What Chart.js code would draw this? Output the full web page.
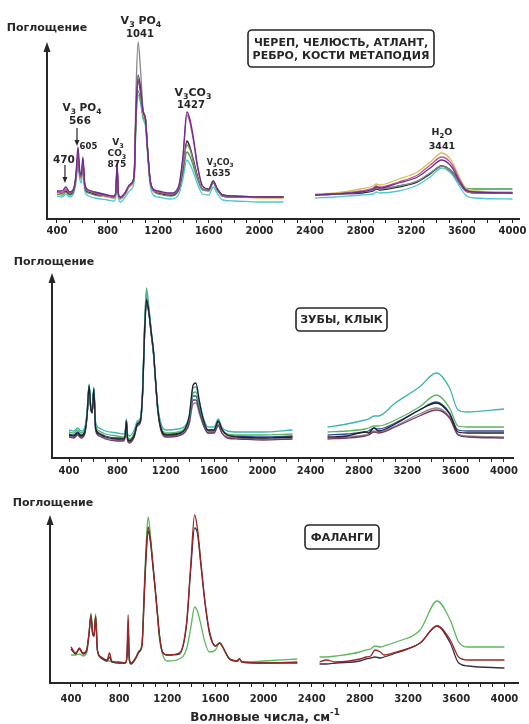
<!DOCTYPE html>
<html>
<head>
<meta charset="utf-8">
<script src="https://cdn.jsdelivr.net/npm/chart.js@4.4.1/dist/chart.umd.min.js"></script>
<style>
  body { margin: 0; background: #fff; }
  canvas { position: absolute; left: 0; }
</style>
</head>
<body>
<canvas id="bones" width="529" height="250" style="top:0px"></canvas>
<canvas id="teeth" width="529" height="250" style="top:239px"></canvas>
<canvas id="phalanges" width="529" height="260" style="top:464px"></canvas>
<script>
// волновые числа, см-1 (null в данных = разрыв оси 2200-2450)
var wnBones = [400,440,470,500,530,550,566,580,592,605, 620,650,700,800,850,865,875,885,900,940,
  965,990,1010,1025,1041,1060,1080,1100,1115,1135, 1160,1200,1300,1360,1395,1427,1450,1480,1510,1550,
  1600,1635,1665,1710,1800,2000,2190,2300,2440,2600, 2800,2900,2925,2950,3100,3250,3350,3441,3520,3580,
  3630,3700,4000];
var wnTeeth = [400,440,470,500,530,550,566,580,592,605, 620,650,700,800,850,865,875,885,900,940,
  965,990,1010,1025,1041,1060,1080,1100,1115,1135, 1160,1200,1300,1360,1395,1427,1450,1480,1510,1550,
  1600,1635,1665,1710,1800,2000,2250,2400,2540,2700, 2850,2880,2925,2960,3100,3300,3441,3550,3620,3700,
  4000];
var wnPhalanges = [400,440,470,500,530,550,566,580,592,605, 620,650,700,720,740,800,850,865,875,885,
  900,940,965,990,1010,1025,1041,1060,1080,1100, 1115,1135,1160,1200,1300,1360,1395,1427,1450,1480,
  1510,1550,1600,1635,1665,1710,1780,1800,1820,2000, 2280,2370,2465,2520,2600,2800,2850,2890,2925,2970,
  3000,3100,3300,3441,3550,3620,3700,4000];

// поглощение, отн. ед. — череп, челюсть, атлант, ребро, кости метаподия
var bonesGrey = [27,26,29,26,29,42,66,46,42,58, 33,28,26,23,22,26,52,25,21,26, 32,36,45,130,177,150,110,100,72,40,
  29,27,25,30,52,74,70,56,42,30, 29,37,30,23,22,22,22,null,24,25, 27,29,31,30,33,38,46,53,47,36, 28,26,26];
var bonesPurple = [28,28,32,27,30,45,72,48,44,62, 35,29,27,24,23,28,57,26,22,27, 33,36,44,110,144,132,108,99,72,41,
  30,28,26,32,62,107,100,80,54,33, 30,38,31,24,23,22,22,null,24,25, 27,30,32,31,36,42,51,59,52,38, 29,27,26];
var bonesPink = [27,26,30,26,29,42,65,45,42,58, 33,28,26,23,22,26,52,25,21,26, 32,35,43,108,140,130,107,98,71,40,
  29,27,25,31,60,104,97,77,52,33, 30,38,31,24,23,22,22,null,24,25, 28,31,33,32,37,44,54,62,55,40, 30,27,26];
var bonesYellow = [26,25,28,25,28,40,62,44,40,57, 32,27,25,22,21,25,50,24,20,25, 31,34,42,104,136,126,105,96,70,39,
  28,26,24,29,50,77,73,58,43,30, 29,37,30,23,22,21,21,null,25,26, 30,33,35,34,40,47,57,66,58,42, 31,28,27];
var bonesGreen = [25,24,27,24,27,40,60,43,40,56, 31,26,24,22,21,25,50,24,20,25, 31,34,41,100,128,120,103,95,69,38,
  28,25,23,28,46,67,63,52,40,29, 28,36,29,23,22,22,22,null,24,25, 27,29,31,30,33,38,46,53,48,38, 31,30,30];
var bonesBlack = [27,26,28,25,28,42,64,45,42,57, 32,27,25,23,22,26,52,25,21,26, 32,36,44,108,138,128,108,100,72,40,
  29,26,24,29,50,78,72,58,43,30, 29,37,30,23,22,22,22,null,24,25, 26,28,30,29,32,37,45,53,47,36, 28,26,26];
var bonesCyan = [23,22,25,22,25,36,52,40,36,50, 28,23,21,19,18,22,46,21,17,22, 27,30,38,96,124,116,100,92,66,35,
  24,22,20,24,40,59,55,46,35,25, 24,32,26,19,18,17,17,null,21,22, 24,25,27,26,28,34,42,51,45,33, 24,21,20];

// зубы, клык
var teethTeal = [28,27,30,27,30,48,74,52,48,71, 36,30,27,25,24,28,39,24,22,28, 37,40,72,130,165,150,128,105,80,52,
  35,28,29,32,42,70,71,56,41,31, 31,39,31,27,26,26,28,null,31,34, 38,39,42,42,55,71,85,70,48,46, 49];
var teethGreen = [26,25,28,25,28,46,73,51,47,70, 33,27,24,22,21,25,37,21,19,25, 35,38,70,132,170,152,128,105,80,50,
  32,25,26,30,40,65,66,52,38,28, 28,37,29,24,23,23,24,null,26,27, 29,30,32,32,38,51,63,50,32,31, 31];
var teethBlue = [24,23,26,23,27,45,72,50,46,69, 31,25,22,20,20,24,38,20,18,24, 35,38,70,128,160,148,126,104,79,49,
  31,24,25,29,38,62,62,49,36,27, 27,36,28,23,22,21,22,null,23,24, 26,27,30,29,35,48,56,45,28,27, 27];
var teethBlack = [23,22,25,22,26,44,72,50,46,69, 30,24,21,19,19,23,37,19,17,23, 34,37,68,125,158,147,126,106,80,49,
  30,23,24,29,42,73,75,56,39,28, 28,37,29,23,21,20,21,null,21,22, 26,25,30,27,34,48,55,44,26,25, 25];
var teethPurple = [21,20,23,20,24,42,70,49,45,68, 28,22,19,17,17,21,35,17,15,21, 32,35,66,122,155,145,124,103,78,47,
  28,21,22,26,35,58,58,46,34,25, 25,33,25,20,19,18,19,null,19,20, 22,23,26,25,31,42,48,40,23,21, 20];
var teethGrey = [22,21,24,21,25,43,71,49,45,68, 29,23,20,18,18,22,36,18,16,22, 33,36,67,124,156,146,124,103,78,47,
  29,22,23,26,34,54,55,44,33,25, 25,32,25,21,20,19,20,null,20,21, 23,24,27,26,32,44,50,41,24,22, 21];

// фаланги
var phalGreen = [28,28,29,27,30,48,70,52,48,69, 33,26,22,22,21,20,20,24,36,22, 19,25,31,40,100,140,166,148,118,92,
  72,44,29,22,24,34,55,76,72,58, 42,31,33,40,35,25,22,24,21,22, 24,null,26,26,27,31,33,34,37,36, 37,41,53,82,63,41,36,36];
var phalRed = [36,30,35,30,33,50,68,50,47,67, 33,26,23,30,22,21,20,28,68,25, 20,26,32,38,92,132,156,144,120,94,
  74,48,31,28,30,60,118,168,155,120, 85,52,37,40,35,25,22,24,21,20, 21,null,21,23,21,24,26,27,33,31, 28,31,40,57,43,26,23,23];
var phalDark = [34,29,34,29,32,49,66,49,47,66, 32,25,22,26,21,20,20,26,55,23, 19,25,31,37,90,128,152,141,118,94,
  74,48,31,28,29,58,114,155,150,117, 83,50,37,40,35,25,22,24,21,20, 20,null,19,19,20,22,24,25,26,25, 26,30,40,57,40,20,17,15];

var xTickLabels = [400, 800, 1200, 1600, 2000, 2400, 2800, 3200, 3600, 4000];

var ink = "#262626";
var FONT = '"DejaVu Sans", Verdana, sans-serif';

// текст с индексами: "_3" — нижний, "^-1" — верхний
function drawChem(ctx, text, cx, cy, size) {
  var parts = [];
  var re = /_(\d)|\^(-?\d+)|([^_^]+)/g, m;
  while ((m = re.exec(text))) {
    if (m[1]) parts.push({ t: m[1], k: "sub" });
    else if (m[2]) parts.push({ t: m[2], k: "sup" });
    else parts.push({ t: m[3], k: "n" });
  }
  var small = size * 0.72;
  var total = 0;
  parts.forEach(function (p) {
    ctx.font = "bold " + (p.k === "n" ? size : small) + "px " + FONT;
    p.w = ctx.measureText(p.t).width;
    total += p.w;
  });
  var x = cx - total / 2;
  ctx.textBaseline = "alphabetic";
  ctx.textAlign = "left";
  parts.forEach(function (p) {
    ctx.font = "bold " + (p.k === "n" ? size : small) + "px " + FONT;
    var dy = p.k === "sub" ? size * 0.28 : p.k === "sup" ? -size * 0.5 : 0;
    ctx.fillText(p.t, x, cy + size * 0.36 + dy);
    x += p.w;
  });
}

function roundRect(ctx, x0, y0, x1, y1, r) {
  ctx.beginPath();
  ctx.moveTo(x0 + r, y0);
  ctx.arcTo(x1, y0, x1, y1, r);
  ctx.arcTo(x1, y1, x0, y1, r);
  ctx.arcTo(x0, y1, x0, y0, r);
  ctx.arcTo(x0, y0, x1, y0, r);
  ctx.closePath();
}

var decorPlugin = {
  id: "decor",
  afterDraw: function (chart, args, opts) {
    var ctx = chart.ctx, area = chart.chartArea;
    var sx = chart.scales.x, sy = chart.scales.y;
    ctx.save();
    ctx.fillStyle = ink;
    ctx.strokeStyle = ink;

    // ось поглощения со стрелкой
    var tip = sy.getPixelForValue(opts.arrowTop);
    ctx.lineWidth = 2;
    ctx.beginPath();
    ctx.moveTo(area.left, area.bottom);
    ctx.lineTo(area.left, tip + 6);
    ctx.stroke();
    ctx.beginPath();
    ctx.moveTo(area.left, tip);
    ctx.lineTo(area.left - 3.5, tip + 10);
    ctx.lineTo(area.left + 3.5, tip + 10);
    ctx.closePath();
    ctx.fill();

    drawChem(ctx, "Поглощение", opts.yTitle.cx, opts.yTitle.cy, 11);

    // подписи полос
    (opts.notes || []).forEach(function (n) {
      drawChem(ctx, n.text, sx.getPixelForValue(n.x), sy.getPixelForValue(n.y), n.size);
    });
    (opts.arrows || []).forEach(function (a) {
      var px = sx.getPixelForValue(a.x);
      var y0 = sy.getPixelForValue(a.from), y1 = sy.getPixelForValue(a.to);
      ctx.lineWidth = 1.2;
      ctx.beginPath();
      ctx.moveTo(px, y0);
      ctx.lineTo(px, y1 - 5);
      ctx.stroke();
      ctx.beginPath();
      ctx.moveTo(px, y1);
      ctx.lineTo(px - 2.5, y1 - 6);
      ctx.lineTo(px + 2.5, y1 - 6);
      ctx.closePath();
      ctx.fill();
    });

    // рамка с названием группы костей
    var b = opts.box;
    ctx.fillStyle = "#fff";
    roundRect(ctx, b.x0, b.y0, b.x1, b.y1, 4);
    ctx.fill();
    ctx.lineWidth = 1.6;
    ctx.stroke();
    ctx.fillStyle = ink;
    var cx = (b.x0 + b.x1) / 2, cy = (b.y0 + b.y1) / 2;
    b.lines.forEach(function (line, i) {
      drawChem(ctx, line, cx, cy + (i - (b.lines.length - 1) / 2) * 13, 11);
    });

    if (opts.xTitle) {
      drawChem(ctx, opts.xTitle.text, opts.xTitle.cx, opts.xTitle.cy, 12);
    }
    ctx.restore();
  }
};

function line(label, xs, ys, color) {
  return {
    label: label,
    data: xs.map(function (x, i) { return { x: x, y: ys[i] }; }),
    borderColor: color,
    borderWidth: 1.3,
    pointRadius: 0,
    fill: false,
    spanGaps: false,
    cubicInterpolationMode: "monotone"
  };
}

function panel(id, datasets, cfg) {
  return new Chart(document.getElementById(id), {
    type: "line",
    data: { datasets: datasets },
    plugins: [decorPlugin],
    options: {
      responsive: false,
      animation: false,
      layout: { padding: { left: cfg.left, right: cfg.right, top: 30, bottom: 0 } },
      scales: {
        x: {
          type: "linear",
          min: cfg.min,
          max: cfg.max,
          afterFit: function (s) { s.height = cfg.axisHeight; },
          afterBuildTicks: function (s) {
            var t = [];
            for (var v = 400; v <= 4000; v += 100) t.push({ value: v });
            s.ticks = t;
          },
          ticks: {
            autoSkip: false,
            maxRotation: 0,
            padding: cfg.tickPad,
            color: ink,
            font: { family: FONT, size: 10, weight: "bold" },
            callback: function (v) { return xTickLabels.indexOf(v) >= 0 ? String(v) : ""; }
          },
          grid: { drawOnChartArea: false, drawTicks: true, tickLength: 4, color: ink, lineWidth: 1 },
          border: { display: true, color: ink, width: 2 }
        },
        y: { display: false, min: 0, max: 189 }
      },
      plugins: {
        legend: { display: false },
        tooltip: { enabled: false },
        decor: cfg.decor
      }
    }
  });
}

panel("bones", [
  line("purple", wnBones, bonesPurple, "#6a2d8e"),
  line("pink", wnBones, bonesPink, "#c2569c"),
  line("grey", wnBones, bonesGrey, "#858585"),
  line("black", wnBones, bonesBlack, "#2a2a2a"),
  line("yellow", wnBones, bonesYellow, "#d6bf55"),
  line("green", wnBones, bonesGreen, "#3d9a4a"),
  line("cyan", wnBones, bonesCyan, "#4fc6d6")
], {
  left: 47, right: 10, min: 321, max: 4052, axisHeight: 31, tickPad: 2,
  decor: {
    arrowTop: 177,
    yTitle: { cx: 47, cy: 27 },
    notes: [
      { text: "V_3 PO_4", x: 1064, y: 199, size: 11 },
      { text: "1041", x: 1056, y: 186, size: 10 },
      { text: "V_3 PO_4", x: 598, y: 112, size: 10.5 },
      { text: "566", x: 582, y: 99, size: 10.5 },
      { text: "605", x: 649, y: 73, size: 8.5 },
      { text: "470", x: 455, y: 60, size: 10.5 },
      { text: "V_3", x: 882, y: 77, size: 9 },
      { text: "CO_3", x: 874, y: 66, size: 9 },
      { text: "875", x: 874, y: 55, size: 9 },
      { text: "V_3CO_3", x: 1475, y: 127, size: 11 },
      { text: "1427", x: 1459, y: 115, size: 10 },
      { text: "V_3CO_3", x: 1689, y: 57, size: 8 },
      { text: "1635", x: 1673, y: 46, size: 9 },
      { text: "H_2O", x: 3443, y: 87, size: 9.5 },
      { text: "3441", x: 3443, y: 73, size: 9.5 }
    ],
    arrows: [
      { x: 558, from: 91, to: 73 },
      { x: 463, from: 54, to: 36 }
    ],
    box: { x0: 248, y0: 30, x1: 434, y1: 67, lines: ["ЧЕРЕП, ЧЕЛЮСТЬ, АТЛАНТ,", "РЕБРО, КОСТИ МЕТАПОДИЯ"] }
  }
});

panel("teeth", [
  line("black", wnTeeth, teethBlack, "#1f1f2a"),
  line("teal", wnTeeth, teethTeal, "#3db5b2"),
  line("green", wnTeeth, teethGreen, "#5cb55c"),
  line("blue", wnTeeth, teethBlue, "#2e4b9e"),
  line("purple", wnTeeth, teethPurple, "#7b3562"),
  line("grey", wnTeeth, teethGrey, "#8c8c8c")
], {
  left: 52, right: 16, min: 259, max: 4075, axisHeight: 31, tickPad: 3,
  decor: {
    arrowTop: 185,
    yTitle: { cx: 54, cy: 22 },
    box: { x0: 296, y0: 69, x1: 387, y1: 92, lines: ["ЗУБЫ, КЛЫК"] }
  }
});

panel("phalanges", [
  line("red", wnPhalanges, phalRed, "#9a2626"),
  line("dark", wnPhalanges, phalDark, "#3a3040"),
  line("green", wnPhalanges, phalGreen, "#5cb85c")
], {
  left: 50, right: 11, min: 226, max: 4113, axisHeight: 41, tickPad: 6,
  decor: {
    arrowTop: 168,
    yTitle: { cx: 53, cy: 38 },
    box: { x0: 305, y0: 61, x1: 379, y1: 85, lines: ["ФАЛАНГИ"] },
    xTitle: { text: "Волновые числа, см^-1", cx: 265, cy: 253 }
  }
});
</script>
</body>
</html>
